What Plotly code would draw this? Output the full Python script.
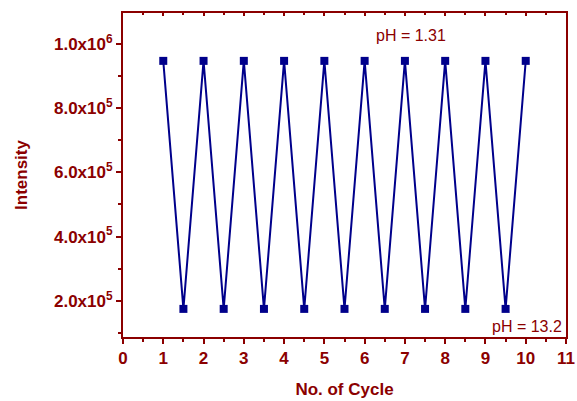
import plotly.graph_objects as go

cycle = [1, 1.5, 2, 2.5, 3, 3.5, 4, 4.5, 5, 5.5, 6, 6.5, 7, 7.5, 8, 8.5, 9, 9.5, 10]
intensity = [9.47e5, 1.75e5, 9.47e5, 1.75e5, 9.47e5, 1.75e5, 9.47e5, 1.75e5, 9.47e5, 1.75e5,
             9.47e5, 1.75e5, 9.47e5, 1.75e5, 9.47e5, 1.75e5, 9.47e5, 1.75e5, 9.47e5]
ytick_vals = [2e5, 4e5, 6e5, 8e5, 1e6]
ytick_text = ["<b>2.0x10<sup>5</sup></b>", "<b>4.0x10<sup>5</sup></b>", "<b>6.0x10<sup>5</sup></b>",
              "<b>8.0x10<sup>5</sup></b>", "<b>1.0x10<sup>6</sup></b>"]
xtick_vals = list(range(0, 12))
xtick_text = ["<b>%d</b>" % v for v in xtick_vals]

AX = "#8B0000"
LINE = "#00008B"
FONT = "Liberation Sans, Arial, sans-serif"

fig = go.Figure()
fig.add_trace(go.Scatter(
    x=cycle, y=intensity, mode="lines+markers",
    line=dict(color=LINE, width=2),
    marker=dict(symbol="square", size=8, color=LINE),
    showlegend=False,
))

fig.update_layout(
    width=577, height=401,
    margin=dict(l=123, r=11, t=13, b=64),
    paper_bgcolor="white", plot_bgcolor="white",
    font=dict(family=FONT, color=AX),
    xaxis=dict(
        range=[0, 11], tickvals=xtick_vals, ticktext=xtick_text, ticks="outside", ticklen=5, tickwidth=1.5,
        tickcolor=AX, showline=True, linecolor=AX, linewidth=2, mirror=True,
        showgrid=False, zeroline=False, automargin=False,
        tickfont=dict(size=17, family=FONT, color=AX),
        minor=dict(ticks="outside", dtick=0.5, tick0=0, ticklen=3, tickcolor=AX, tickwidth=1.5),
        title=dict(text="<b>No. of Cycle</b>", font=dict(size=17, color=AX, family=FONT), standoff=16),
    ),
    yaxis=dict(
        range=[0.875e5, 1.096e6], tickvals=ytick_vals, ticktext=ytick_text,
        ticks="outside", ticklen=5, tickwidth=1.5, tickcolor=AX,
        showline=True, linecolor=AX, linewidth=2, mirror=True,
        showgrid=False, zeroline=False, automargin=False,
        tickfont=dict(size=17, family=FONT, color=AX),
        minor=dict(ticks="outside", dtick=1e5, tick0=0, ticklen=3, tickcolor=AX, tickwidth=1.5),
        title=dict(text="<b>Intensity</b>", font=dict(size=17, color=AX, family=FONT), standoff=22),
    ),
    xaxis2=dict(
        overlaying="x", side="top", range=[0, 11], tickvals=xtick_vals,
        ticks="inside", ticklen=3, tickcolor=AX, tickwidth=1.5, showticklabels=False,
        showgrid=False, zeroline=False, showline=False, automargin=False,
        minor=dict(ticks="inside", dtick=0.5, tick0=0, ticklen=2, tickcolor=AX, tickwidth=1.5),
    ),
)
fig.add_trace(go.Scatter(x=[None], y=[None], xaxis="x2", showlegend=False))

fig.add_annotation(x=7.15, y=1.025e6, text="pH = 1.31", showarrow=False,
                   font=dict(size=16, color=AX, family=FONT), xanchor="center", yanchor="middle")
fig.add_annotation(x=10.95, y=1.2e5, text="pH = 13.2", showarrow=False,
                   font=dict(size=16, color=AX, family=FONT), xanchor="right", yanchor="middle")

fig.write_html("out.html")
